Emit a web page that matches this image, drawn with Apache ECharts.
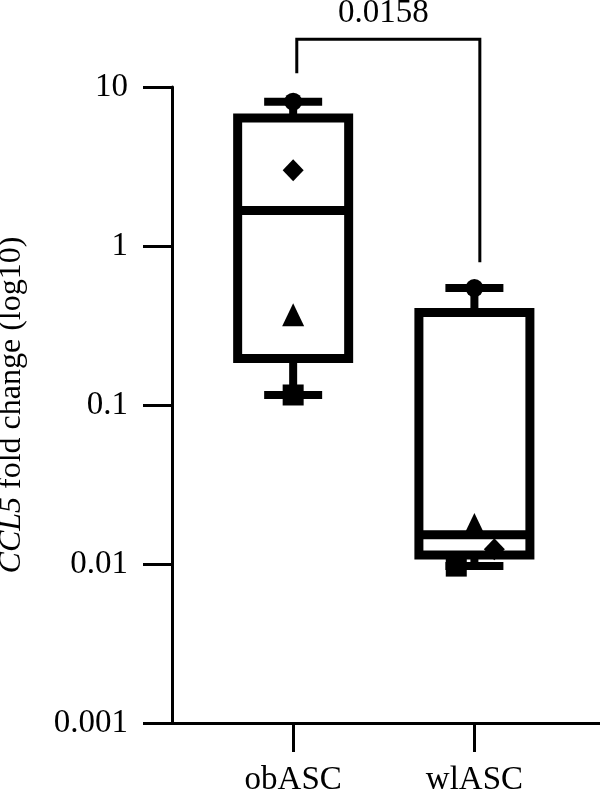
<!DOCTYPE html>
<html>
<head>
<meta charset="utf-8">
<script src="https://cdn.jsdelivr.net/npm/echarts@6/dist/echarts.min.js"></script>
<style>
html,body{margin:0;padding:0;background:#fff;}
#chart{width:600px;height:792px;}
</style>
</head>
<body>
<div id="chart"></div>
<script>
// ---- data ----
const categories = ['obASC', 'wlASC'];
const categoryPos = [1, 2];
const boxMin = [0.1156, 0.0097];
const boxQ1 = [0.196, 0.0114];
const boxMedian = [1.67, 0.0153];
const boxQ3 = [6.38, 0.382];
const boxMax = [8.08, 0.544];
const circlePts = [[1, 8.08], [2, 0.544]];
const diamondPts = [[1, 3.0], [2.11, 0.0124]];
const trianglePts = [[1, 0.37], [2, 0.0177]];
const squarePts = [[1, 0.1156], [1.9, 0.0097]];
const yTickValues = [0.001, 0.01, 0.1, 1, 10];
const pValueText = '0.0158';
const bracketX = [1.02, 2.03];
const bracketY = [12.2, 20, 0.79]; // left end, top, right end

// ---- chart ----
const FONT = 'Liberation Serif';
const chart = echarts.init(document.getElementById('chart'), null, {renderer: 'canvas'});

const boxData = categoryPos.map((x, i) => [x, boxMin[i], boxQ1[i], boxMedian[i], boxQ3[i], boxMax[i]]);

function renderBox(params, api) {
  const x = api.value(0);
  const pMin = api.coord([x, api.value(1)]);
  const pQ1 = api.coord([x, api.value(2)]);
  const pMed = api.coord([x, api.value(3)]);
  const pQ3 = api.coord([x, api.value(4)]);
  const pMax = api.coord([x, api.value(5)]);
  const c = pMed[0];
  const halfW = 55.5, capHalf = 29;
  const stroke = {stroke: '#000', lineWidth: 9, fill: null};
  const wStroke = {stroke: '#000', lineWidth: 8, fill: null};
  return {
    type: 'group',
    children: [
      {type: 'line', shape: {x1: c, y1: pQ3[1], x2: c, y2: pMax[1]}, style: wStroke},
      {type: 'line', shape: {x1: c - capHalf, y1: pMax[1], x2: c + capHalf, y2: pMax[1]}, style: wStroke},
      {type: 'line', shape: {x1: c, y1: pQ1[1], x2: c, y2: pMin[1]}, style: wStroke},
      {type: 'line', shape: {x1: c - capHalf, y1: pMin[1], x2: c + capHalf, y2: pMin[1]}, style: wStroke},
      {type: 'rect', shape: {x: c - halfW, y: pQ3[1], width: halfW * 2, height: pQ1[1] - pQ3[1]}, style: stroke},
      {type: 'line', shape: {x1: c - halfW, y1: pMed[1], x2: c + halfW, y2: pMed[1]}, style: stroke}
    ]
  };
}

function renderBracket(params, api) {
  const pL = api.coord([bracketX[0], bracketY[0]]);
  const pLT = api.coord([bracketX[0], bracketY[1]]);
  const pRT = api.coord([bracketX[1], bracketY[1]]);
  const pR = api.coord([bracketX[1], bracketY[2]]);
  return {
    type: 'group',
    children: [
      {type: 'polyline', shape: {points: [pL, pLT, pRT, pR]}, style: {stroke: '#000', lineWidth: 3, fill: null}},
      {type: 'text', x: (pLT[0] + pRT[0]) / 2 - 5, y: pLT[1] - 9,
        style: {text: pValueText, font: '33px "' + FONT + '"', fill: '#000', align: 'center', verticalAlign: 'bottom'}}
    ]
  };
}

const scatterBase = {type: 'scatter', itemStyle: {color: '#000', opacity: 1}, z: 5};

chart.setOption({
  backgroundColor: '#fff',
  animation: false,
  grid: {left: 172, right: 0, top: 87, bottom: 69, containLabel: false, outerBoundsMode: 'none'},
  xAxis: {
    type: 'value',
    min: 0.3315,
    max: 2.693,
    axisLine: {show: true, lineStyle: {color: '#000', width: 3}},
    axisTick: {show: true, customValues: categoryPos, length: 29, lineStyle: {color: '#000', width: 3}},
    axisLabel: {show: true, customValues: categoryPos, margin: 41, color: '#000', fontFamily: FONT, fontSize: 33,
      formatter: v => categories[Math.round(v) - 1]},
    splitLine: {show: false}
  },
  yAxis: {
    type: 'log',
    logBase: 10,
    min: 0.001,
    max: 10,
    name: '{i|CCL5} fold change (log10)',
    nameLocation: 'middle',
    nameGap: 144,
    nameRotate: 90,
    nameTextStyle: {color: '#000', fontFamily: FONT, fontSize: 32,
      rich: {i: {fontStyle: 'italic', fontFamily: FONT, fontSize: 32, color: '#000'}}},
    axisLine: {show: true, lineStyle: {color: '#000', width: 3}},
    axisTick: {show: true, length: 29, lineStyle: {color: '#000', width: 3}},
    minorTick: {show: false},
    axisLabel: {margin: 44, color: '#000', fontFamily: FONT, fontSize: 33,
      formatter: v => {
        const t = yTickValues.find(tv => Math.abs(Math.log10(tv) - Math.log10(v)) < 1e-6);
        return t === undefined ? '' : String(t);
      }},
    splitLine: {show: false}
  },
  series: [
    {type: 'custom', renderItem: renderBox, data: boxData, z: 3, clip: false,
      encode: {x: 0, y: [1, 2, 3, 4, 5]}},
    Object.assign({}, scatterBase, {symbol: 'circle', symbolSize: 18, data: circlePts}),
    Object.assign({}, scatterBase, {symbol: 'diamond', symbolSize: [21, 22], data: diamondPts}),
    Object.assign({}, scatterBase, {symbol: 'triangle', symbolSize: [22, 23], data: trianglePts}),
    Object.assign({}, scatterBase, {symbol: 'rect', symbolSize: 21, data: squarePts}),
    {type: 'custom', renderItem: renderBracket, data: [[bracketX[0], bracketY[1]]], z: 4, clip: false,
      encode: {x: 0, y: 1}}
  ]
});
</script>
</body>
</html>
